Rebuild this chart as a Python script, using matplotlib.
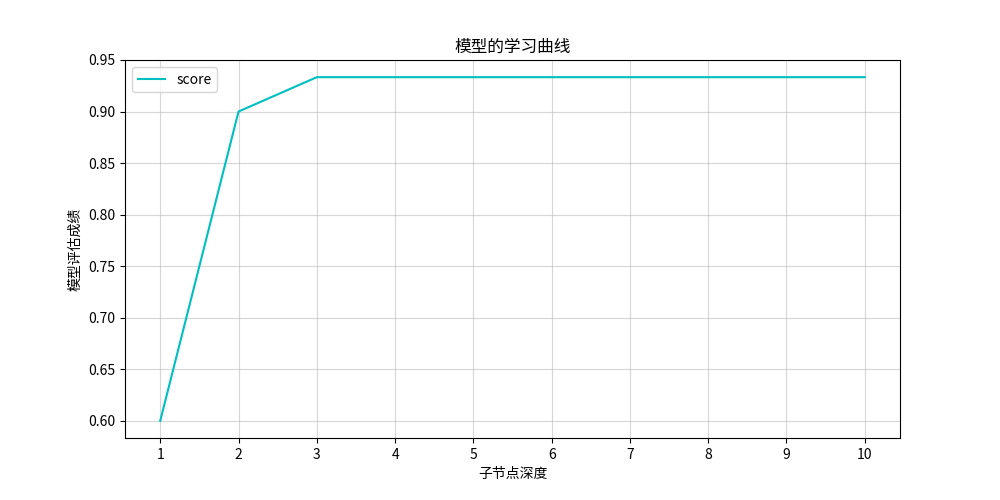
import matplotlib
matplotlib.use("Agg")
import matplotlib.pyplot as plt

plt.rcParams['font.family'] = ['Noto Sans CJK SC', 'DejaVu Sans']
plt.rcParams['axes.unicode_minus'] = False

depth = [1, 2, 3, 4, 5, 6, 7, 8, 9, 10]
score = [0.6, 0.9, 0.933333, 0.933333, 0.933333, 0.933333, 0.933333, 0.933333, 0.933333, 0.933333]

fig = plt.figure(figsize=(10, 5), dpi=100)
ax = fig.add_subplot(111)
fig.subplots_adjust(left=0.125, right=0.9, top=0.88, bottom=0.124)

ax.plot(depth, score, color='c', label='score')
ax.set_xticks(depth)
ax.set_ylim(0.58333, 0.95)
ax.set_title('模型的学习曲线')
ax.set_xlabel('子节点深度')
ax.set_ylabel('模型评估成绩')
ax.grid(True, alpha=0.5)
ax.legend(loc='upper left')

fig.savefig('out.png', dpi=100)
